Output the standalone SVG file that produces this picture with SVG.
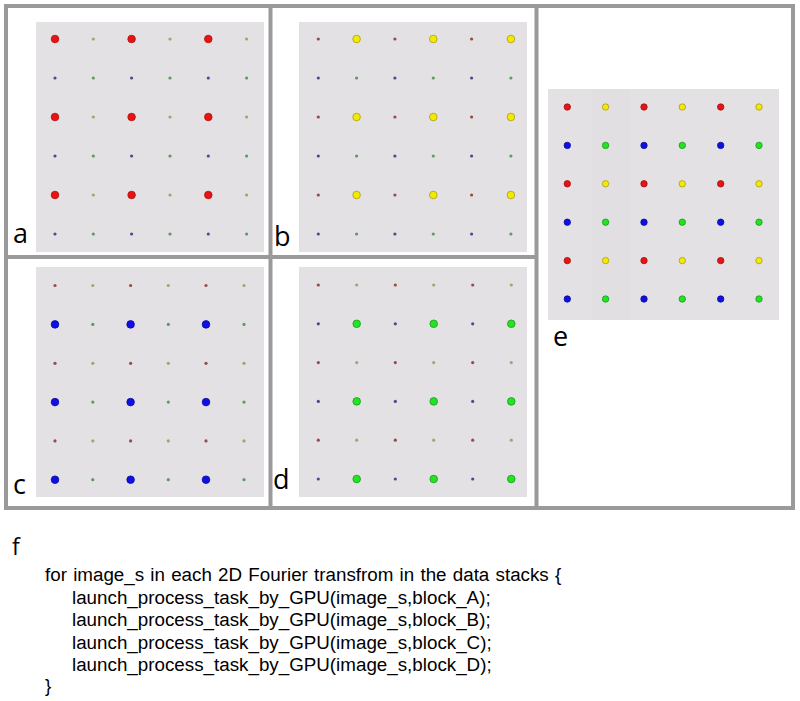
<svg xmlns="http://www.w3.org/2000/svg" xmlns:xlink="http://www.w3.org/1999/xlink" width="800" height="701" viewBox="0 0 800 701">
<style>
.bg{fill:#e3e1e3}
.frame{fill:none;stroke:#9a9a9a;stroke-width:4}
.lbl{font-family:"Open Sans","Liberation Sans",sans-serif;font-size:27px;fill:#000}
.code{font-family:"Liberation Sans",Arial,sans-serif;font-size:18.8px;fill:#000}
</style>
<defs>
<circle id="R" r="3.8" fill="#e81414" stroke="#b01010" stroke-width="0.8"/>
<circle id="Y" r="3.8" fill="#f4ea00" stroke="#a89a20" stroke-width="0.8"/>
<circle id="B" r="3.8" fill="#1010e6" stroke="#0a0a9a" stroke-width="0.8"/>
<circle id="G" r="3.8" fill="#22e422" stroke="#169a16" stroke-width="0.8"/>
<circle id="r" r="1.6" fill="#9a4848"/>
<circle id="y" r="1.6" fill="#a8a272"/>
<circle id="b" r="1.6" fill="#4a4a92"/>
<circle id="g" r="1.6" fill="#5e9a5e"/>
<circle id="eR" r="3.2" fill="#e81414" stroke="#a01010" stroke-width="0.8"/>
<circle id="eY" r="3.2" fill="#f4ea00" stroke="#a89a20" stroke-width="0.8"/>
<circle id="eB" r="3.2" fill="#1010e6" stroke="#0a0a9a" stroke-width="0.8"/>
<circle id="eG" r="3.2" fill="#22e422" stroke="#169a16" stroke-width="0.8"/>
</defs>
<rect width="800" height="701" fill="#fff"/>

<g id="frame">
<rect class="frame" x="6" y="6" width="787" height="502"/>
<line class="frame" x1="270.5" y1="6" x2="270.5" y2="508"/>
<line class="frame" x1="536.5" y1="6" x2="536.5" y2="508"/>
<line class="frame" x1="6" y1="257" x2="536.5" y2="257"/>
</g>

<g id="panel-a">
<rect class="bg" x="36" y="22" width="228" height="230"/>
<g transform="translate(55,39)">
<use href="#R" x="0" y="0"/><use href="#y" x="38.3" y="0"/><use href="#R" x="76.6" y="0"/><use href="#y" x="115" y="0"/><use href="#R" x="153.3" y="0"/><use href="#y" x="191.6" y="0"/>
<use href="#b" x="0" y="39"/><use href="#g" x="38.3" y="39"/><use href="#b" x="76.6" y="39"/><use href="#g" x="115" y="39"/><use href="#b" x="153.3" y="39"/><use href="#g" x="191.6" y="39"/>
<use href="#R" x="0" y="78"/><use href="#y" x="38.3" y="78"/><use href="#R" x="76.6" y="78"/><use href="#y" x="115" y="78"/><use href="#R" x="153.3" y="78"/><use href="#y" x="191.6" y="78"/>
<use href="#b" x="0" y="117"/><use href="#g" x="38.3" y="117"/><use href="#b" x="76.6" y="117"/><use href="#g" x="115" y="117"/><use href="#b" x="153.3" y="117"/><use href="#g" x="191.6" y="117"/>
<use href="#R" x="0" y="156"/><use href="#y" x="38.3" y="156"/><use href="#R" x="76.6" y="156"/><use href="#y" x="115" y="156"/><use href="#R" x="153.3" y="156"/><use href="#y" x="191.6" y="156"/>
<use href="#b" x="0" y="195"/><use href="#g" x="38.3" y="195"/><use href="#b" x="76.6" y="195"/><use href="#g" x="115" y="195"/><use href="#b" x="153.3" y="195"/><use href="#g" x="191.6" y="195"/>
</g>
<text class="lbl" x="13" y="243">a</text>
</g>

<g id="panel-b">
<rect class="bg" x="299" y="22" width="228" height="230"/>
<g transform="translate(318.3,39)">
<use href="#r" x="0" y="0"/><use href="#Y" x="38.3" y="0"/><use href="#r" x="76.6" y="0"/><use href="#Y" x="115" y="0"/><use href="#r" x="153.3" y="0"/><use href="#Y" x="192.6" y="0"/>
<use href="#b" x="0" y="39"/><use href="#g" x="38.3" y="39"/><use href="#b" x="76.6" y="39"/><use href="#g" x="115" y="39"/><use href="#b" x="153.3" y="39"/><use href="#g" x="192.6" y="39"/>
<use href="#r" x="0" y="78"/><use href="#Y" x="38.3" y="78"/><use href="#r" x="76.6" y="78"/><use href="#Y" x="115" y="78"/><use href="#r" x="153.3" y="78"/><use href="#Y" x="192.6" y="78"/>
<use href="#b" x="0" y="117"/><use href="#g" x="38.3" y="117"/><use href="#b" x="76.6" y="117"/><use href="#g" x="115" y="117"/><use href="#b" x="153.3" y="117"/><use href="#g" x="192.6" y="117"/>
<use href="#r" x="0" y="156"/><use href="#Y" x="38.3" y="156"/><use href="#r" x="76.6" y="156"/><use href="#Y" x="115" y="156"/><use href="#r" x="153.3" y="156"/><use href="#Y" x="192.6" y="156"/>
<use href="#b" x="0" y="195"/><use href="#g" x="38.3" y="195"/><use href="#b" x="76.6" y="195"/><use href="#g" x="115" y="195"/><use href="#b" x="153.3" y="195"/><use href="#g" x="192.6" y="195"/>
</g>
<text class="lbl" x="274" y="246">b</text>
</g>

<g id="panel-c">
<rect class="bg" x="36" y="267" width="228" height="230"/>
<g transform="translate(55,285.5)">
<use href="#r" x="0" y="0"/><use href="#y" x="37.8" y="0"/><use href="#r" x="75.6" y="0"/><use href="#y" x="113.3" y="0"/><use href="#r" x="151" y="0"/><use href="#y" x="189" y="0"/>
<use href="#B" x="0" y="38.9"/><use href="#g" x="37.8" y="38.9"/><use href="#B" x="75.6" y="38.9"/><use href="#g" x="113.3" y="38.9"/><use href="#B" x="151" y="38.9"/><use href="#g" x="189" y="38.9"/>
<use href="#r" x="0" y="77.8"/><use href="#y" x="37.8" y="77.8"/><use href="#r" x="75.6" y="77.8"/><use href="#y" x="113.3" y="77.8"/><use href="#r" x="151" y="77.8"/><use href="#y" x="189" y="77.8"/>
<use href="#B" x="0" y="116.6"/><use href="#g" x="37.8" y="116.6"/><use href="#B" x="75.6" y="116.6"/><use href="#g" x="113.3" y="116.6"/><use href="#B" x="151" y="116.6"/><use href="#g" x="189" y="116.6"/>
<use href="#r" x="0" y="155.4"/><use href="#y" x="37.8" y="155.4"/><use href="#r" x="75.6" y="155.4"/><use href="#y" x="113.3" y="155.4"/><use href="#r" x="151" y="155.4"/><use href="#y" x="189" y="155.4"/>
<use href="#B" x="0" y="194.2"/><use href="#g" x="37.8" y="194.2"/><use href="#B" x="75.6" y="194.2"/><use href="#g" x="113.3" y="194.2"/><use href="#B" x="151" y="194.2"/><use href="#g" x="189" y="194.2"/>
</g>
<text class="lbl" x="13" y="494">c</text>
</g>

<g id="panel-d">
<rect class="bg" x="299" y="267" width="228" height="230"/>
<g transform="translate(318.3,285)">
<use href="#r" x="0" y="0"/><use href="#y" x="38.4" y="0"/><use href="#r" x="77" y="0"/><use href="#y" x="115.4" y="0"/><use href="#r" x="154.4" y="0"/><use href="#y" x="193" y="0"/>
<use href="#b" x="0" y="38.8"/><use href="#G" x="38.4" y="38.8"/><use href="#b" x="77" y="38.8"/><use href="#G" x="115.4" y="38.8"/><use href="#b" x="154.4" y="38.8"/><use href="#G" x="193" y="38.8"/>
<use href="#r" x="0" y="77.6"/><use href="#y" x="38.4" y="77.6"/><use href="#r" x="77" y="77.6"/><use href="#y" x="115.4" y="77.6"/><use href="#r" x="154.4" y="77.6"/><use href="#y" x="193" y="77.6"/>
<use href="#b" x="0" y="116.4"/><use href="#G" x="38.4" y="116.4"/><use href="#b" x="77" y="116.4"/><use href="#G" x="115.4" y="116.4"/><use href="#b" x="154.4" y="116.4"/><use href="#G" x="193" y="116.4"/>
<use href="#r" x="0" y="155.2"/><use href="#y" x="38.4" y="155.2"/><use href="#r" x="77" y="155.2"/><use href="#y" x="115.4" y="155.2"/><use href="#r" x="154.4" y="155.2"/><use href="#y" x="193" y="155.2"/>
<use href="#b" x="0" y="194"/><use href="#G" x="38.4" y="194"/><use href="#b" x="77" y="194"/><use href="#G" x="115.4" y="194"/><use href="#b" x="154.4" y="194"/><use href="#G" x="193" y="194"/>
</g>
<text class="lbl" x="273" y="489">d</text>
</g>

<g id="panel-e">
<rect class="bg" x="548" y="89" width="231" height="231"/>
<rect x="592" y="89" width="38" height="231" fill="#e1dfe1"/>
<g transform="translate(567.3,107)">
<use href="#eR" x="0" y="0"/><use href="#eY" x="38.3" y="0"/><use href="#eR" x="76.7" y="0"/><use href="#eY" x="115" y="0"/><use href="#eR" x="153.4" y="0"/><use href="#eY" x="191.7" y="0"/>
<use href="#eB" x="0" y="38.4"/><use href="#eG" x="38.3" y="38.4"/><use href="#eB" x="76.7" y="38.4"/><use href="#eG" x="115" y="38.4"/><use href="#eB" x="153.4" y="38.4"/><use href="#eG" x="191.7" y="38.4"/>
<use href="#eR" x="0" y="76.8"/><use href="#eY" x="38.3" y="76.8"/><use href="#eR" x="76.7" y="76.8"/><use href="#eY" x="115" y="76.8"/><use href="#eR" x="153.4" y="76.8"/><use href="#eY" x="191.7" y="76.8"/>
<use href="#eB" x="0" y="115.2"/><use href="#eG" x="38.3" y="115.2"/><use href="#eB" x="76.7" y="115.2"/><use href="#eG" x="115" y="115.2"/><use href="#eB" x="153.4" y="115.2"/><use href="#eG" x="191.7" y="115.2"/>
<use href="#eR" x="0" y="153.6"/><use href="#eY" x="38.3" y="153.6"/><use href="#eR" x="76.7" y="153.6"/><use href="#eY" x="115" y="153.6"/><use href="#eR" x="153.4" y="153.6"/><use href="#eY" x="191.7" y="153.6"/>
<use href="#eB" x="0" y="192"/><use href="#eG" x="38.3" y="192"/><use href="#eB" x="76.7" y="192"/><use href="#eG" x="115" y="192"/><use href="#eB" x="153.4" y="192"/><use href="#eG" x="191.7" y="192"/>
</g>
<text class="lbl" x="553" y="346">e</text>
</g>

<g id="panel-f">
<text class="lbl" x="12" y="555" style="font-size:23px">f</text>
<text class="code" x="45" y="581" word-spacing="1">for image_s in each 2D Fourier transfrom in the data stacks {</text>
<text class="code" x="72" y="603.5">launch_process_task_by_GPU(image_s,block_A);</text>
<text class="code" x="72" y="626">launch_process_task_by_GPU(image_s,block_B);</text>
<text class="code" x="72" y="648.5">launch_process_task_by_GPU(image_s,block_C);</text>
<text class="code" x="72" y="671">launch_process_task_by_GPU(image_s,block_D);</text>
<text class="code" x="45" y="692">}</text>
</g>

<g id="connectors"></g>
</svg>
